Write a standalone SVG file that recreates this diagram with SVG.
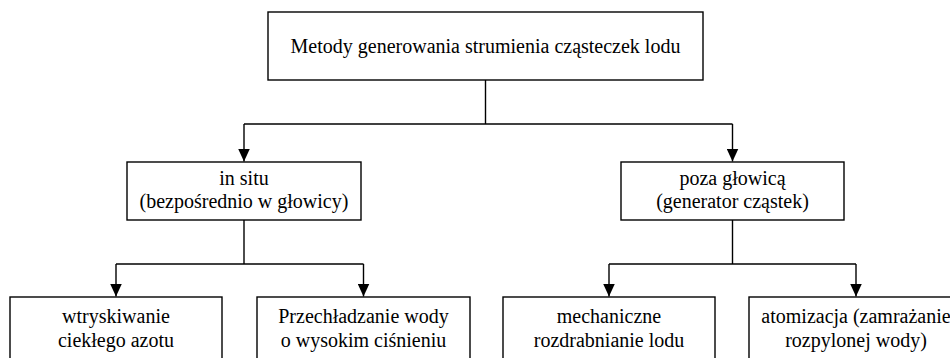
<svg xmlns="http://www.w3.org/2000/svg" width="950" height="358" viewBox="0 0 950 358">
<style>
.box{fill:#fff;stroke:#000;stroke-width:1.4}
.t{font-family:"Liberation Serif","Times New Roman","DejaVu Serif",serif;font-size:20px;fill:#000;text-anchor:middle}
.c{fill:none;stroke:#000;stroke-width:1.4}
</style>
<defs>
<marker id="ah" markerUnits="userSpaceOnUse" markerWidth="13" markerHeight="12" refX="13" refY="6" orient="auto" viewBox="0 0 13 12">
<path d="M0,0 L13,6 L0,12 Z" fill="#000"/>
</marker>
</defs>
<rect width="950" height="358" fill="#fff"/>
<g id="connectors">
<path class="c" d="M485.5,80 V124"/>
<path class="c" d="M244,124 H732.5"/>
<path class="c" d="M244,124 V161.5" marker-end="url(#ah)"/>
<path class="c" d="M732.5,124 V161.5" marker-end="url(#ah)"/>
<path class="c" d="M244,220 V264"/>
<path class="c" d="M116,264 H363.5"/>
<path class="c" d="M116,264 V296.5" marker-end="url(#ah)"/>
<path class="c" d="M363.5,264 V296.5" marker-end="url(#ah)"/>
<path class="c" d="M732.5,220 V264"/>
<path class="c" d="M609,264 H856"/>
<path class="c" d="M609,264 V296.5" marker-end="url(#ah)"/>
<path class="c" d="M856,264 V296.5" marker-end="url(#ah)"/>
</g>
<g id="root">
<rect class="box" x="268" y="12" width="435" height="68"/>
<text class="t" x="485.5" y="53">Metody generowania strumienia cząsteczek lodu</text>
</g>
<g id="insitu">
<rect class="box" x="127" y="162" width="234" height="58"/>
<text class="t" x="244" y="185">in situ</text>
<text class="t" x="244" y="208">(bezpośrednio w głowicy)</text>
</g>
<g id="poza">
<rect class="box" x="621" y="162" width="223" height="58"/>
<text class="t" x="732.5" y="185">poza głowicą</text>
<text class="t" x="732.5" y="208">(generator cząstek)</text>
</g>
<g id="wtrysk">
<rect class="box" x="10" y="297" width="212" height="80"/>
<text class="t" x="116" y="323">wtryskiwanie</text>
<text class="t" x="116" y="347">ciekłego azotu</text>
</g>
<g id="przechl">
<rect class="box" x="257" y="297" width="213" height="80"/>
<text class="t" x="363.5" y="323">Przechładzanie wody</text>
<text class="t" x="363.5" y="347">o wysokim ciśnieniu</text>
</g>
<g id="mech">
<rect class="box" x="503" y="297" width="212" height="80"/>
<text class="t" x="609" y="323">mechaniczne</text>
<text class="t" x="609" y="347">rozdrabnianie lodu</text>
</g>
<g id="atom">
<rect class="box" x="749" y="297" width="214" height="80"/>
<text class="t" x="856" y="323">atomizacja (zamrażanie</text>
<text class="t" x="856" y="347">rozpylonej wody)</text>
</g>
</svg>
